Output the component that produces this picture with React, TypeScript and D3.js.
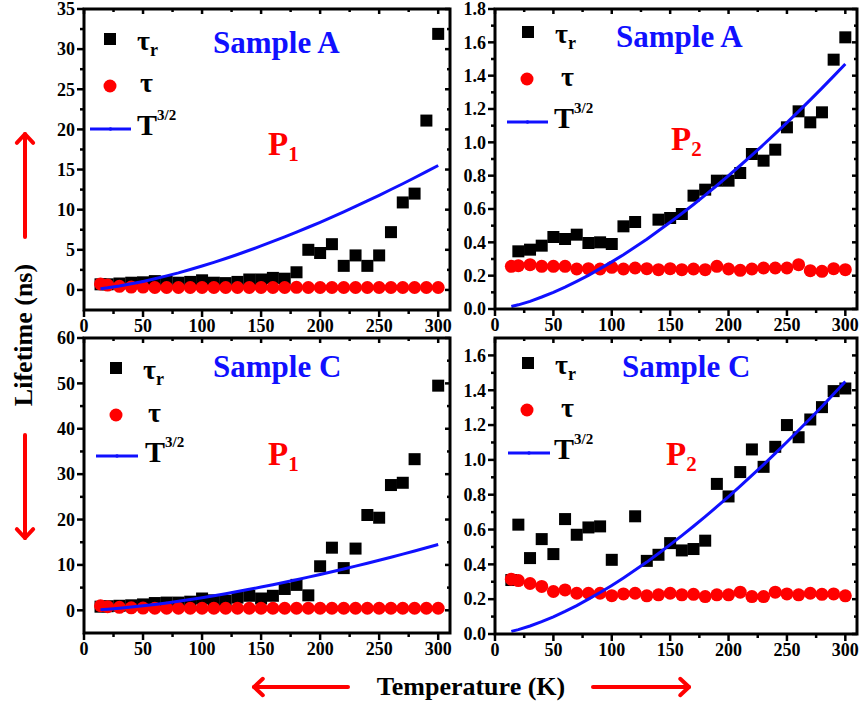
import React from "react";
import * as d3 from "d3";

// Temperatures (K) at which lifetimes were measured
const TEMPS = [14, 20, 30, 40, 50, 60, 70, 80, 90, 100, 110, 120, 130, 140, 150, 160, 170, 180, 190, 200, 210, 220, 230, 240, 250, 260, 270, 280, 290, 300];

// Sample A, peak P1 (ns)
const A_P1_TAU_R = [0.7, 0.7, 0.8, 0.9, 0.95, 1.1, 1.0, 0.9, 1.0, 1.2, 0.9, 0.85, 1.0, 1.3, 1.3, 1.5, 1.4, 2.2, 5.0, 4.6, 5.7, 3.0, 4.3, 3.0, 4.3, 7.2, 10.9, 12.0, 21.1, 31.9];
const A_P1_TAU = [0.75, 0.6, 0.45, 0.35, 0.35, 0.3, 0.3, 0.3, 0.3, 0.3, 0.3, 0.3, 0.3, 0.3, 0.3, 0.3, 0.3, 0.32, 0.3, 0.3, 0.3, 0.3, 0.3, 0.3, 0.3, 0.3, 0.3, 0.3, 0.3, 0.3];
const A_P1_FIT = [0.16, 0.27, 0.49, 0.76, 1.06, 1.39, 1.75, 2.13, 2.55, 2.98, 3.44, 3.92, 4.42, 4.94, 5.48, 6.04, 6.61, 7.2, 7.81, 8.43, 9.08, 9.73, 10.4, 11.09, 11.79, 12.51, 13.23, 13.98, 14.73, 15.5];

// Sample A, peak P2 (ns)
const A_P2_TAU_R = [null, 0.346, 0.356, 0.38, 0.432, 0.42, 0.446, 0.396, 0.4, 0.39, 0.496, 0.522, null, 0.536, 0.546, 0.57, 0.68, 0.716, 0.77, 0.77, 0.816, 0.93, 0.89, 0.956, 1.09, 1.186, 1.12, 1.18, 1.496, 1.63];
const A_P2_TAU = [0.256, 0.26, 0.266, 0.256, 0.256, 0.256, 0.24, 0.242, 0.24, 0.25, 0.24, 0.246, 0.242, 0.236, 0.242, 0.236, 0.24, 0.236, 0.256, 0.24, 0.232, 0.24, 0.246, 0.246, 0.246, 0.266, 0.23, 0.226, 0.242, 0.236];
const A_P2_FIT = [0.015, 0.025, 0.046, 0.072, 0.1, 0.131, 0.166, 0.202, 0.242, 0.283, 0.326, 0.372, 0.419, 0.469, 0.52, 0.573, 0.627, 0.683, 0.741, 0.8, 0.861, 0.923, 0.987, 1.052, 1.118, 1.186, 1.255, 1.325, 1.397, 1.47];

// Sample C, peak P1 (ns)
const C_P1_TAU_R = [0.8, 0.9, 1.0, 1.1, 1.3, 1.6, 1.7, 1.7, 1.9, 2.6, 2.2, 2.1, 2.8, 3.2, 2.6, 3.2, 4.7, 5.6, 3.3, 9.7, 13.8, 9.3, 13.6, 21.0, 20.4, 27.6, 28.1, 33.3, null, 49.5];
const C_P1_TAU = [1.0, 0.8, 0.65, 0.55, 0.5, 0.45, 0.45, 0.45, 0.45, 0.45, 0.45, 0.45, 0.45, 0.45, 0.45, 0.45, 0.45, 0.45, 0.45, 0.45, 0.45, 0.45, 0.45, 0.45, 0.45, 0.45, 0.45, 0.45, 0.45, 0.45];
const C_P1_FIT = [0.15, 0.25, 0.46, 0.71, 0.99, 1.3, 1.63, 2.0, 2.38, 2.79, 3.22, 3.67, 4.13, 4.62, 5.13, 5.65, 6.18, 6.74, 7.31, 7.89, 8.49, 9.1, 9.73, 10.37, 11.03, 11.7, 12.38, 13.08, 13.78, 14.5];

// Sample C, peak P2 (ns)
const C_P2_TAU_R = [0.31, 0.628, 0.436, 0.545, 0.459, 0.66, 0.57, 0.612, 0.618, 0.426, null, 0.676, 0.42, 0.455, 0.522, 0.48, 0.488, 0.536, 0.862, 0.79, 0.93, 1.06, 0.96, 1.075, 1.2, 1.13, 1.232, 1.303, 1.395, 1.41];
const C_P2_TAU = [0.315, 0.307, 0.29, 0.273, 0.244, 0.253, 0.234, 0.234, 0.234, 0.22, 0.23, 0.234, 0.219, 0.225, 0.234, 0.225, 0.228, 0.215, 0.225, 0.225, 0.24, 0.215, 0.215, 0.24, 0.23, 0.225, 0.234, 0.228, 0.23, 0.219];
const C_P2_FIT = [0.015, 0.025, 0.046, 0.071, 0.099, 0.13, 0.163, 0.2, 0.238, 0.279, 0.322, 0.367, 0.413, 0.462, 0.513, 0.565, 0.619, 0.674, 0.731, 0.789, 0.849, 0.911, 0.973, 1.037, 1.103, 1.17, 1.238, 1.307, 1.378, 1.45];

const X_TICKS = [0, 50, 100, 150, 200, 250, 300];

const FONT = '"Liberation Serif", "Times New Roman", Times, serif';
const RED = "#ff0000";
const BLUE = "#1010ff";

type PanelCfg = {
  left: number; right: number; top: number; bottom: number;
  yDomain: [number, number]; yMax: number; yStep: number; decimals: number;
  tauR: (number | null)[]; tau: number[]; fit: number[];
  sample: string; peak: string;
  samplePos: [number, number]; peakPos: [number, number];
  sq: [number, number]; circ: [number, number]; line: [number, number, number];
  tauRText: [number, number]; tauText: [number, number]; tText: [number, number];
};

const PANELS: PanelCfg[] = [
  {
    left: 84, right: 450, top: 9, bottom: 310, yDomain: [-2.5, 35], yMax: 35, yStep: 5, decimals: 0,
    tauR: A_P1_TAU_R, tau: A_P1_TAU, fit: A_P1_FIT, sample: "Sample A", peak: "1",
    samplePos: [213, 53], peakPos: [268, 155],
    sq: [110, 39], circ: [110, 86], line: [90, 131, 129],
    tauRText: [137, 50], tauText: [140, 92], tText: [137, 135],
  },
  {
    left: 495, right: 857, top: 9, bottom: 309, yDomain: [0, 1.8], yMax: 1.8, yStep: 0.2, decimals: 1,
    tauR: A_P2_TAU_R, tau: A_P2_TAU, fit: A_P2_FIT, sample: "Sample A", peak: "2",
    samplePos: [616, 47], peakPos: [671, 150],
    sq: [528, 32], circ: [527, 79], line: [507, 548, 122],
    tauRText: [555, 43], tauText: [561, 86], tText: [554, 128],
  },
  {
    left: 84, right: 450, top: 338, bottom: 633, yDomain: [-5, 60], yMax: 60, yStep: 10, decimals: 0,
    tauR: C_P1_TAU_R, tau: C_P1_TAU, fit: C_P1_FIT, sample: "Sample C", peak: "1",
    samplePos: [213, 377], peakPos: [268, 465],
    sq: [116, 368], circ: [116, 415], line: [96, 138, 456],
    tauRText: [143, 379], tauText: [148, 422], tText: [145, 462],
  },
  {
    left: 495, right: 857, top: 338, bottom: 634, yDomain: [0, 1.7], yMax: 1.6, yStep: 0.2, decimals: 1,
    tauR: C_P2_TAU_R, tau: C_P2_TAU, fit: C_P2_FIT, sample: "Sample C", peak: "2",
    samplePos: [622, 377], peakPos: [666, 465],
    sq: [528, 363], circ: [527, 410], line: [508, 550, 453],
    tauRText: [555, 374], tauText: [561, 417], tText: [554, 459],
  },
];

function Panel({ cfg }: { cfg: PanelCfg }) {
  const x = d3.scaleLinear().domain([0, 310]).range([cfg.left, cfg.right]);
  const y = d3.scaleLinear().domain(cfg.yDomain).range([cfg.bottom, cfg.top]);
  const eps = 1e-9;
  const yMajor = d3.range(0, cfg.yMax + eps, cfg.yStep).map((v) => +v.toFixed(4));
  const yMinor = d3
    .range(cfg.yStep / 2, cfg.yDomain[1], cfg.yStep)
    .map((v) => +v.toFixed(4))
    .filter((v) => v < cfg.yDomain[1] - eps);
  const xMinor = d3.range(25, 310, 50);
  const fmt = d3.format(`.${cfg.decimals}f`);

  const lineGen = d3
    .line<number>()
    .x((_, i) => x(TEMPS[i]))
    .y((d) => y(d));

  const sqSize = 12;
  const [lx1, lx2, ly] = cfg.line;

  return (
    <g>
      {/* data: squares, circles, then the T^3/2 curve on top */}
      {cfg.tauR.map((v, i) =>
        v === null ? null : (
          <rect key={`s${i}`} x={x(TEMPS[i]) - sqSize / 2} y={y(v) - sqSize / 2} width={sqSize} height={sqSize} fill="#000" />
        )
      )}
      {cfg.tau.map((v, i) => (
        <circle key={`c${i}`} cx={x(TEMPS[i])} cy={y(v)} r={6.5} fill={RED} />
      ))}
      <path d={lineGen(cfg.fit) || ""} fill="none" stroke={BLUE} strokeWidth={3} />

      {/* frame */}
      <rect x={cfg.left} y={cfg.top} width={cfg.right - cfg.left} height={cfg.bottom - cfg.top} fill="none" stroke="#000" strokeWidth={3} />

      {/* y ticks */}
      {yMajor.map((v) => (
        <g key={`ym${v}`}>
          <line x1={cfg.left - 7} x2={cfg.left} y1={y(v)} y2={y(v)} stroke="#000" strokeWidth={2.5} />
          <line x1={cfg.right} x2={cfg.right - 5} y1={y(v)} y2={y(v)} stroke="#000" strokeWidth={2.5} />
          <text x={cfg.left - 9} y={y(v)} dy="0.35em" textAnchor="end" fontFamily={FONT} fontWeight="bold" fontSize={18}>
            {fmt(v)}
          </text>
        </g>
      ))}
      {yMinor.map((v) => (
        <g key={`yn${v}`}>
          <line x1={cfg.left - 4} x2={cfg.left} y1={y(v)} y2={y(v)} stroke="#000" strokeWidth={2.5} />
          <line x1={cfg.right} x2={cfg.right - 3} y1={y(v)} y2={y(v)} stroke="#000" strokeWidth={2.5} />
        </g>
      ))}

      {/* x ticks */}
      {X_TICKS.map((v) => (
        <g key={`xm${v}`}>
          <line x1={x(v)} x2={x(v)} y1={cfg.bottom} y2={cfg.bottom + 7} stroke="#000" strokeWidth={2.5} />
          <line x1={x(v)} x2={x(v)} y1={cfg.top} y2={cfg.top + 5} stroke="#000" strokeWidth={2.5} />
          <text x={x(v)} y={cfg.bottom + 22} textAnchor="middle" fontFamily={FONT} fontWeight="bold" fontSize={18}>
            {v}
          </text>
        </g>
      ))}
      {xMinor.map((v) => (
        <g key={`xn${v}`}>
          <line x1={x(v)} x2={x(v)} y1={cfg.bottom} y2={cfg.bottom + 4} stroke="#000" strokeWidth={2.5} />
          <line x1={x(v)} x2={x(v)} y1={cfg.top} y2={cfg.top + 3} stroke="#000" strokeWidth={2.5} />
        </g>
      ))}

      {/* legend */}
      <rect x={cfg.sq[0] - sqSize / 2} y={cfg.sq[1] - sqSize / 2} width={sqSize} height={sqSize} fill="#000" />
      <text x={cfg.tauRText[0]} y={cfg.tauRText[1]} fontFamily={FONT} fontWeight="bold" fontSize={28}>
        τ<tspan fontSize={18} dy={6}>r</tspan>
      </text>
      <circle cx={cfg.circ[0]} cy={cfg.circ[1]} r={6.5} fill={RED} />
      <text x={cfg.tauText[0]} y={cfg.tauText[1]} fontFamily={FONT} fontWeight="bold" fontSize={28}>
        τ
      </text>
      <line x1={lx1} x2={lx2} y1={ly} y2={ly} stroke={BLUE} strokeWidth={3} />
      <circle cx={(lx1 + lx2) / 2} cy={ly} r={1.8} fill={BLUE} />
      <text x={cfg.tText[0]} y={cfg.tText[1]} fontFamily={FONT} fontWeight="bold" fontSize={30}>
        T<tspan fontSize={15} dy={-15}>3/2</tspan>
      </text>

      {/* annotations */}
      <text x={cfg.samplePos[0]} y={cfg.samplePos[1]} fontFamily={FONT} fontWeight="bold" fontSize={31} fill={BLUE}>
        {cfg.sample}
      </text>
      <text x={cfg.peakPos[0]} y={cfg.peakPos[1]} fontFamily={FONT} fontWeight="bold" fontSize={33} fill={RED}>
        P<tspan fontSize={21} dy={6}>{cfg.peak}</tspan>
      </text>
    </g>
  );
}

function Arrow({ x1, y1, x2, y2 }: { x1: number; y1: number; x2: number; y2: number }) {
  // open chevron head at (x2, y2)
  const ang = Math.atan2(y2 - y1, x2 - x1);
  const len = 12;
  const spread = Math.PI / 4.2;
  const hx1 = x2 - len * Math.cos(ang - spread);
  const hy1 = y2 - len * Math.sin(ang - spread);
  const hx2 = x2 - len * Math.cos(ang + spread);
  const hy2 = y2 - len * Math.sin(ang + spread);
  return (
    <g stroke={RED} strokeWidth={4} fill="none" strokeLinecap="round" strokeLinejoin="round">
      <line x1={x1} y1={y1} x2={x2} y2={y2} />
      <polyline points={`${hx1},${hy1} ${x2},${y2} ${hx2},${hy2}`} />
    </g>
  );
}

export default function App() {
  return (
    <svg width={862} height={706} style={{ position: "absolute", left: 0, top: 0, background: "#fff" }}>
      <rect width={862} height={706} fill="#fff" />
      {PANELS.map((p, i) => (
        <Panel key={i} cfg={p} />
      ))}
      <text
        transform="translate(32,335) rotate(-90)"
        textAnchor="middle"
        fontFamily={FONT}
        fontWeight="bold"
        fontSize={26}
      >
        Lifetime (ns)
      </text>
      <Arrow x1={25} y1={237} x2={25} y2={134} />
      <Arrow x1={25} y1={435} x2={25} y2={538} />
      <text x={471} y={695} textAnchor="middle" fontFamily={FONT} fontWeight="bold" fontSize={26}>
        Temperature (K)
      </text>
      <Arrow x1={348} y1={687} x2={254} y2={687} />
      <Arrow x1={593} y1={687} x2={689} y2={687} />
    </svg>
  );
}
